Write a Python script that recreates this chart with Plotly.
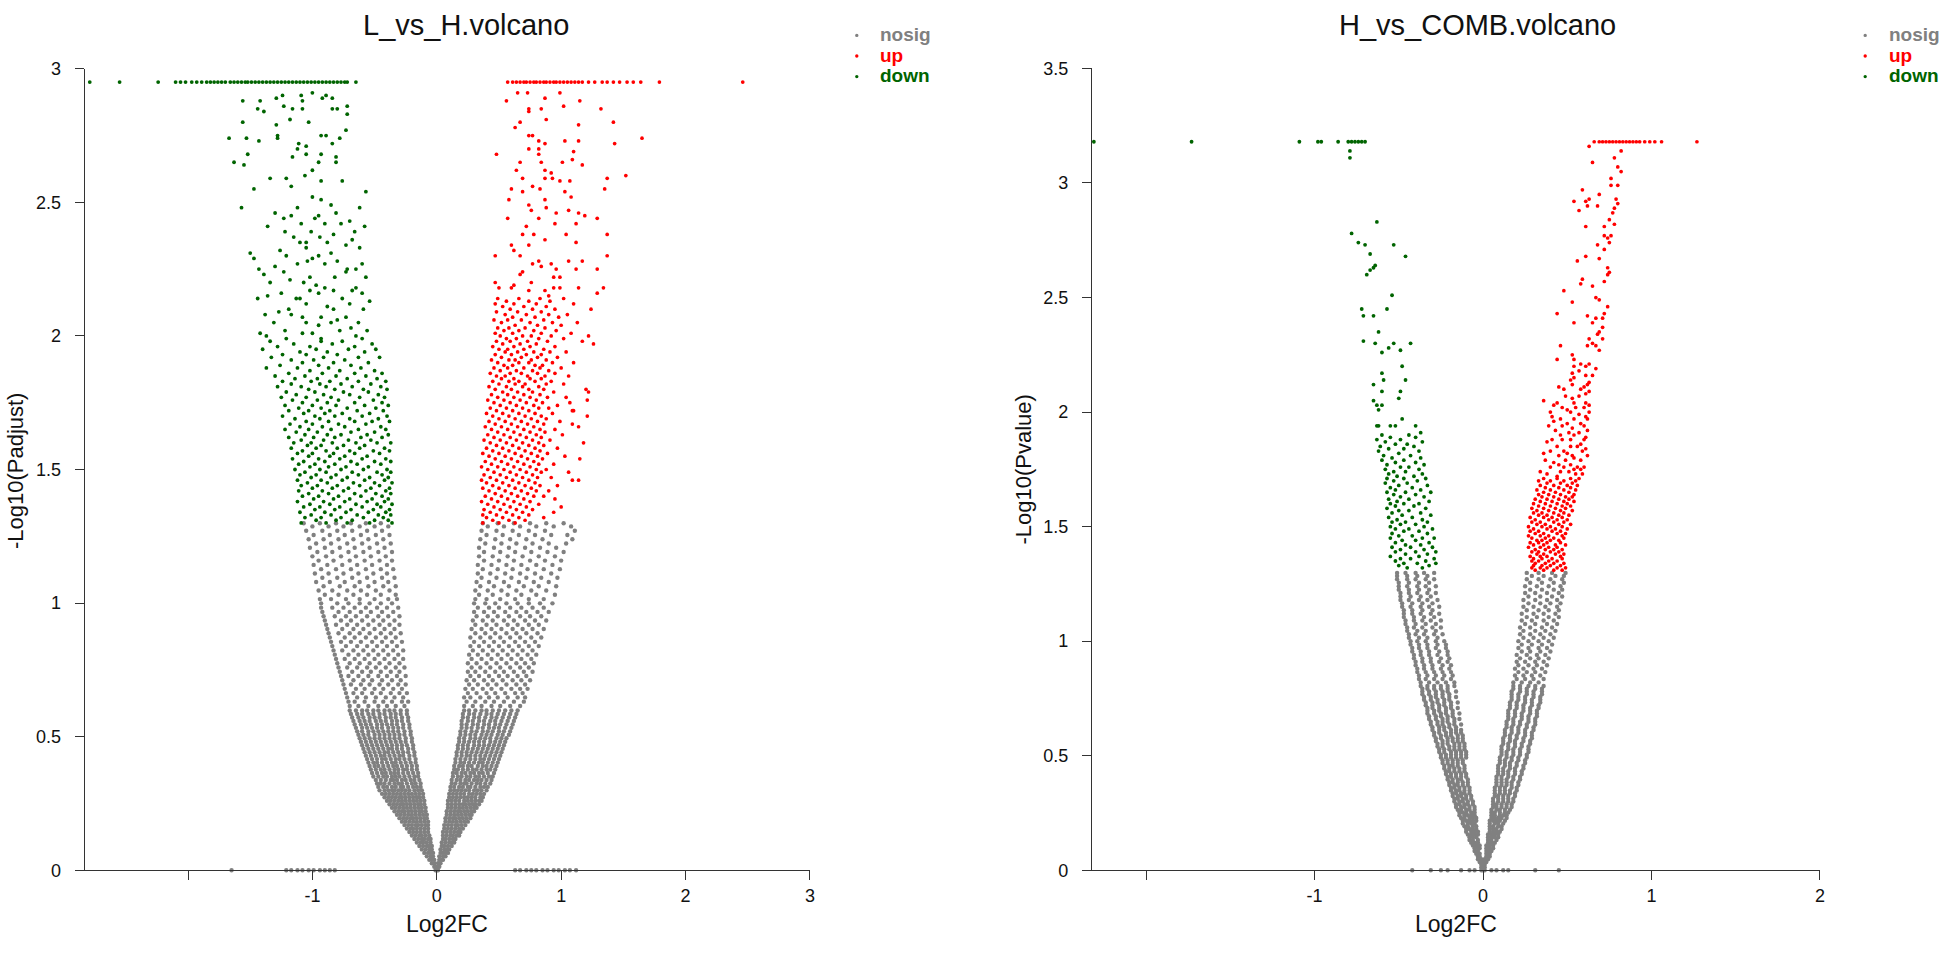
import plotly.graph_objects as go

W, H = 1946, 953

PANEL_TITLES = ["L_vs_H.volcano", "H_vs_COMB.volcano"]
X_TITLE = "Log2FC"
Y_TITLES = ["-Log10(Padjust)", "-Log10(Pvalue)"]
GROUPS = ["nosig", "up", "down"]
GROUP_COLORS = {"nosig": "#808080", "up": "#FF0000", "down": "#006400"}
GROUP_SIZES = {"nosig": 4.4, "up": 3.7, "down": 3.8}

LH_XTICKS = [-2, -1, 0, 1, 2, 3]
LH_XTICKTEXT = ["", "-1", "0", "1", "2", "3"]
LH_YTICKS = [0, 0.5, 1, 1.5, 2, 2.5, 3]
LH_YTICKTEXT = ["0", "0.5", "1", "1.5", "2", "2.5", "3"]
HC_XTICKS = [-2, -1, 0, 1, 2]
HC_XTICKTEXT = ["", "-1", "0", "1", "2"]
HC_YTICKS = [0, 0.5, 1, 1.5, 2, 2.5, 3, 3.5]
HC_YTICKTEXT = ["0", "0.5", "1", "1.5", "2", "2.5", "3", "3.5"]

# ---------------- L_vs_H : rows of (-log10 Padjust, [log2FC ...])
LH_NOSIG = [
(0.000, [-1.65,-1.21,-1.17,-1.12,-1.08,-1.03,-0.99,-0.94,-0.90,-0.86,-0.82,-0.01,0.00,0.01,0.63,0.67,0.72,0.76,0.80,0.85,0.89,0.94,0.98,1.03,1.07,1.12]),
(0.013, [-0.02,-0.01,0.01,0.02]),
(0.026, [-0.04,-0.02,0.01,0.03]),
(0.039, [-0.06,-0.04,-0.02,0.02,0.04,0.05]),
(0.052, [-0.08,-0.05,-0.03,0.02,0.05,0.07]),
(0.065, [-0.10,-0.07,-0.05,-0.03,0.03,0.05,0.07,0.09]),
(0.078, [-0.12,-0.09,-0.06,-0.04,0.03,0.06,0.08,0.10]),
(0.091, [-0.14,-0.11,-0.08,-0.06,-0.04,0.04,0.06,0.09,0.12]),
(0.104, [-0.16,-0.13,-0.11,-0.08,-0.05,0.04,0.07,0.10,0.12,0.14]),
(0.117, [-0.18,-0.15,-0.12,-0.10,-0.07,-0.05,0.05,0.07,0.10,0.13,0.15]),
(0.130, [-0.20,-0.17,-0.14,-0.12,-0.09,-0.06,0.05,0.08,0.11,0.13,0.16,0.18]),
(0.143, [-0.22,-0.19,-0.16,-0.13,-0.10,-0.07,0.05,0.08,0.11,0.14,0.17,0.19]),
(0.156, [-0.24,-0.21,-0.19,-0.16,-0.13,-0.10,-0.07,0.06,0.09,0.12,0.15,0.18,0.21]),
(0.169, [-0.26,-0.23,-0.20,-0.17,-0.15,-0.12,-0.09,-0.07,0.06,0.09,0.12,0.15,0.17,0.20,0.23]),
(0.182, [-0.28,-0.25,-0.22,-0.19,-0.16,-0.13,-0.10,-0.07,0.07,0.10,0.13,0.16,0.19,0.22,0.25]),
(0.195, [-0.30,-0.27,-0.24,-0.21,-0.19,-0.16,-0.13,-0.10,-0.08,0.07,0.10,0.13,0.15,0.18,0.21,0.24,0.27]),
(0.208, [-0.32,-0.29,-0.26,-0.23,-0.20,-0.17,-0.14,-0.11,-0.08,0.08,0.11,0.14,0.17,0.20,0.23,0.26,0.28]),
(0.221, [-0.34,-0.31,-0.28,-0.26,-0.23,-0.20,-0.17,-0.14,-0.12,-0.09,0.08,0.11,0.14,0.17,0.19,0.22,0.25,0.28,0.30]),
(0.234, [-0.36,-0.33,-0.30,-0.27,-0.24,-0.21,-0.18,-0.15,-0.12,-0.09,0.09,0.12,0.15,0.18,0.21,0.24,0.27,0.30,0.32]),
(0.247, [-0.38,-0.35,-0.32,-0.29,-0.27,-0.24,-0.21,-0.18,-0.15,-0.13,-0.10,0.09,0.12,0.15,0.18,0.21,0.23,0.26,0.29,0.31,0.34]),
(0.260, [-0.40,-0.37,-0.34,-0.31,-0.28,-0.25,-0.22,-0.19,-0.16,-0.13,-0.10,0.09,0.12,0.15,0.18,0.22,0.25,0.28,0.31,0.34,0.36]),
(0.273, [-0.42,-0.39,-0.36,-0.33,-0.30,-0.28,-0.25,-0.22,-0.19,-0.16,-0.14,-0.11,0.10,0.13,0.16,0.19,0.22,0.25,0.28,0.31,0.35,0.37]),
(0.286, [-0.44,-0.41,-0.38,-0.35,-0.32,-0.29,-0.26,-0.23,-0.20,-0.17,-0.14,-0.11,0.10,0.13,0.16,0.19,0.22,0.26,0.29,0.32,0.35,0.38]),
(0.299, [-0.46,-0.42,-0.39,-0.36,-0.34,-0.31,-0.28,-0.25,-0.22,-0.18,-0.15,-0.12,0.11,0.14,0.17,0.20,0.23,0.26,0.30,0.33,0.36,0.40]),
(0.312, [-0.47,-0.43,-0.40,-0.36,-0.33,-0.29,-0.27,-0.23,-0.19,-0.16,-0.13,0.11,0.14,0.18,0.21,0.25,0.27,0.31,0.35,0.38,0.41]),
(0.325, [-0.48,-0.45,-0.42,-0.38,-0.34,-0.31,-0.28,-0.24,-0.20,-0.17,-0.13,0.12,0.15,0.19,0.22,0.24,0.28,0.32,0.35,0.39,0.43]),
(0.338, [-0.49,-0.45,-0.41,-0.37,-0.35,-0.32,-0.28,-0.25,-0.21,-0.18,-0.14,0.12,0.16,0.19,0.23,0.26,0.30,0.33,0.36,0.40,0.44]),
(0.351, [-0.51,-0.47,-0.43,-0.40,-0.36,-0.33,-0.30,-0.26,-0.22,-0.18,-0.15,0.13,0.17,0.20,0.24,0.27,0.31,0.34,0.38,0.42,0.45]),
(0.364, [-0.52,-0.48,-0.44,-0.41,-0.37,-0.34,-0.31,-0.27,-0.23,-0.19,-0.15,0.13,0.16,0.20,0.23,0.27,0.30,0.34,0.37,0.41,0.46]),
(0.377, [-0.53,-0.49,-0.45,-0.42,-0.38,-0.34,-0.31,-0.27,-0.24,-0.20,-0.16,0.14,0.17,0.21,0.25,0.29,0.32,0.36,0.40,0.43,0.47]),
(0.390, [-0.54,-0.50,-0.47,-0.43,-0.39,-0.35,-0.32,-0.28,-0.24,-0.20,-0.16,0.14,0.18,0.21,0.25,0.28,0.33,0.37,0.40,0.44,0.48]),
(0.403, [-0.55,-0.51,-0.48,-0.44,-0.40,-0.36,-0.33,-0.29,-0.25,-0.21,-0.17,0.15,0.19,0.22,0.26,0.30,0.34,0.37,0.41,0.45,0.49]),
(0.416, [-0.56,-0.52,-0.48,-0.44,-0.41,-0.37,-0.33,-0.30,-0.26,-0.22,-0.17,0.15,0.19,0.23,0.27,0.31,0.35,0.38,0.42,0.46,0.50]),
(0.429, [-0.57,-0.53,-0.49,-0.45,-0.42,-0.38,-0.34,-0.30,-0.27,-0.22,-0.18,0.16,0.20,0.24,0.27,0.31,0.35,0.39,0.43,0.47,0.51]),
(0.442, [-0.58,-0.54,-0.50,-0.46,-0.42,-0.39,-0.35,-0.31,-0.27,-0.23,-0.18,0.16,0.20,0.24,0.28,0.32,0.36,0.40,0.44,0.48,0.52]),
(0.455, [-0.59,-0.55,-0.51,-0.47,-0.43,-0.39,-0.36,-0.32,-0.28,-0.23,-0.19,0.17,0.21,0.25,0.29,0.33,0.37,0.41,0.45,0.49,0.53]),
(0.468, [-0.60,-0.56,-0.52,-0.48,-0.44,-0.40,-0.36,-0.32,-0.28,-0.24,-0.19,0.17,0.21,0.25,0.30,0.34,0.38,0.42,0.46,0.50,0.54]),
(0.481, [-0.61,-0.57,-0.53,-0.49,-0.45,-0.41,-0.37,-0.33,-0.29,-0.25,-0.20,0.18,0.22,0.26,0.30,0.34,0.38,0.43,0.47,0.51,0.55]),
(0.494, [-0.62,-0.58,-0.54,-0.50,-0.46,-0.42,-0.38,-0.34,-0.30,-0.25,-0.20,0.18,0.22,0.27,0.31,0.35,0.39,0.43,0.48,0.52,0.56]),
(0.507, [-0.63,-0.59,-0.55,-0.50,-0.46,-0.42,-0.38,-0.34,-0.30,-0.26,-0.21,0.19,0.23,0.27,0.31,0.36,0.40,0.44,0.49,0.53,0.58]),
(0.520, [-0.64,-0.60,-0.55,-0.51,-0.47,-0.43,-0.39,-0.35,-0.31,-0.26,-0.21,0.19,0.23,0.28,0.32,0.37,0.41,0.45,0.50,0.54,0.59]),
(0.533, [-0.65,-0.60,-0.56,-0.52,-0.48,-0.44,-0.39,-0.35,-0.31,-0.27,-0.22,0.20,0.24,0.28,0.33,0.37,0.42,0.46,0.50,0.55,0.60]),
(0.546, [-0.66,-0.61,-0.57,-0.53,-0.48,-0.44,-0.40,-0.36,-0.32,-0.27,-0.22,0.20,0.24,0.29,0.33,0.38,0.42,0.47,0.51,0.56,0.61]),
(0.559, [-0.67,-0.62,-0.58,-0.54,-0.49,-0.45,-0.41,-0.36,-0.32,-0.28,-0.23,0.20,0.25,0.29,0.34,0.38,0.43,0.47,0.52,0.57,0.62]),
(0.572, [-0.68,-0.63,-0.59,-0.54,-0.50,-0.46,-0.41,-0.37,-0.33,-0.28,-0.23,0.21,0.25,0.30,0.34,0.39,0.44,0.48,0.53,0.58,0.63]),
(0.585, [-0.69,-0.64,-0.60,-0.55,-0.51,-0.46,-0.42,-0.37,-0.33,-0.29,-0.24,0.21,0.26,0.30,0.35,0.40,0.44,0.49,0.54,0.59,0.64]),
(0.598, [-0.70,-0.65,-0.60,-0.56,-0.51,-0.47,-0.42,-0.38,-0.34,-0.29,-0.24,0.22,0.26,0.31,0.36,0.40,0.45,0.50,0.55,0.60,0.65]),
(0.615, [-0.70,-0.63,-0.55,-0.47,-0.40,-0.33,-0.26,0.22,0.29,0.36,0.44,0.51,0.59,0.67]),
(0.631, [-0.71,-0.66,-0.58,-0.50,-0.43,-0.36,-0.28,-0.23,0.24,0.31,0.39,0.46,0.54,0.62,0.70]),
(0.647, [-0.72,-0.64,-0.57,-0.49,-0.41,-0.34,-0.27,0.22,0.27,0.35,0.42,0.49,0.57,0.65,0.71]),
(0.663, [-0.73,-0.67,-0.60,-0.52,-0.45,-0.37,-0.30,-0.24,0.25,0.32,0.40,0.47,0.55,0.63,0.69]),
(0.679, [-0.74,-0.65,-0.58,-0.50,-0.43,-0.35,-0.28,0.23,0.29,0.37,0.44,0.52,0.60,0.67,0.73]),
(0.695, [-0.75,-0.69,-0.61,-0.54,-0.46,-0.39,-0.31,-0.25,0.26,0.33,0.41,0.48,0.56,0.64,0.71]),
(0.711, [-0.76,-0.67,-0.59,-0.52,-0.44,-0.36,-0.29,0.24,0.30,0.38,0.45,0.53,0.61,0.68,0.75]),
(0.727, [-0.77,-0.71,-0.63,-0.55,-0.47,-0.40,-0.32,-0.25,0.27,0.34,0.42,0.50,0.57,0.65,0.72]),
(0.743, [-0.78,-0.68,-0.60,-0.53,-0.45,-0.37,-0.30,0.25,0.31,0.39,0.47,0.54,0.62,0.70,0.77]),
(0.759, [-0.79,-0.72,-0.64,-0.56,-0.49,-0.41,-0.33,-0.26,0.28,0.35,0.43,0.51,0.59,0.67,0.74]),
(0.775, [-0.80,-0.70,-0.62,-0.54,-0.46,-0.38,-0.30,0.25,0.32,0.40,0.48,0.56,0.64,0.71,0.78]),
(0.791, [-0.81,-0.74,-0.66,-0.58,-0.50,-0.42,-0.34,-0.27,0.28,0.36,0.44,0.52,0.60,0.68,0.76]),
(0.807, [-0.82,-0.71,-0.63,-0.55,-0.47,-0.39,-0.31,0.26,0.33,0.41,0.49,0.57,0.65,0.73,0.80]),
(0.823, [-0.83,-0.76,-0.67,-0.59,-0.51,-0.43,-0.35,-0.27,0.29,0.37,0.45,0.53,0.61,0.69,0.77]),
(0.839, [-0.84,-0.73,-0.64,-0.56,-0.48,-0.40,-0.32,0.27,0.34,0.42,0.50,0.58,0.66,0.74,0.82]),
(0.855, [-0.85,-0.77,-0.69,-0.61,-0.52,-0.44,-0.36,-0.28,0.30,0.38,0.46,0.54,0.63,0.71,0.79]),
(0.871, [-0.86,-0.74,-0.66,-0.57,-0.49,-0.41,-0.33,0.27,0.35,0.43,0.51,0.59,0.67,0.76,0.84]),
(0.887, [-0.87,-0.79,-0.70,-0.62,-0.54,-0.45,-0.37,-0.29,0.31,0.39,0.47,0.56,0.64,0.72,0.81]),
(0.903, [-0.88,-0.76,-0.67,-0.59,-0.50,-0.42,-0.34,0.28,0.36,0.44,0.52,0.61,0.69,0.77,0.86]),
(0.919, [-0.89,-0.81,-0.72,-0.64,-0.55,-0.46,-0.38,-0.30,0.31,0.40,0.48,0.57,0.65,0.74,0.82]),
(0.935, [-0.90,-0.77,-0.69,-0.60,-0.51,-0.43,-0.34,0.29,0.37,0.45,0.54,0.62,0.71,0.79,0.88]),
(0.951, [-0.91,-0.82,-0.73,-0.65,-0.56,-0.47,-0.39,-0.30,0.32,0.41,0.49,0.58,0.67,0.75,0.84]),
(0.967, [-0.92,-0.79,-0.70,-0.61,-0.53,-0.44,-0.35,0.30,0.38,0.46,0.55,0.64,0.72,0.81,0.90]),
(0.983, [-0.93,-0.84,-0.75,-0.66,-0.57,-0.48,-0.40,-0.31,0.33,0.42,0.50,0.59,0.68,0.77,0.86]),
(0.999, [-0.93,-0.80,-0.71,-0.62,-0.54,-0.45,-0.36,0.30,0.39,0.47,0.56,0.65,0.74,0.83,0.93]),
(1.015, [-0.94,-0.85,-0.73,-0.62,-0.50,-0.39,-0.32,0.31,0.40,0.51,0.63,0.74,0.86]),
(1.031, [-0.90,-0.79,-0.67,-0.56,-0.45,-0.33,0.34,0.45,0.57,0.68,0.80,0.95]),
(1.047, [-0.95,-0.84,-0.72,-0.61,-0.49,-0.38,0.31,0.41,0.52,0.64,0.76,0.88]),
(1.063, [-0.91,-0.78,-0.66,-0.55,-0.43,-0.33,0.35,0.46,0.58,0.70,0.82,0.96]),
(1.079, [-0.97,-0.86,-0.74,-0.62,-0.50,-0.39,0.32,0.42,0.54,0.66,0.78,0.90]),
(1.095, [-0.92,-0.80,-0.68,-0.56,-0.44,-0.34,0.36,0.48,0.60,0.72,0.84,0.97]),
(1.111, [-0.98,-0.87,-0.75,-0.63,-0.51,-0.40,0.33,0.43,0.55,0.67,0.79,0.92]),
(1.127, [-0.93,-0.81,-0.69,-0.57,-0.45,-0.35,0.37,0.49,0.61,0.73,0.86,0.99]),
(1.143, [-0.99,-0.88,-0.76,-0.64,-0.52,-0.40,0.33,0.44,0.56,0.68,0.80,0.93]),
(1.159, [-0.95,-0.83,-0.70,-0.58,-0.46,-0.36,0.38,0.50,0.62,0.75,0.87,1.00]),
(1.175, [-1.00,-0.89,-0.77,-0.65,-0.53,-0.41,0.34,0.45,0.57,0.69,0.82,0.95]),
(1.191, [-0.96,-0.84,-0.71,-0.59,-0.47,-0.36,0.38,0.51,0.63,0.76,0.89,1.02]),
(1.207, [-1.02,-0.90,-0.78,-0.66,-0.54,-0.42,0.34,0.46,0.58,0.71,0.83,0.96]),
(1.223, [-0.97,-0.85,-0.72,-0.60,-0.48,-0.37,0.39,0.52,0.64,0.77,0.90,1.04]),
(1.239, [-1.03,-0.91,-0.79,-0.67,-0.55,-0.43,0.35,0.47,0.59,0.72,0.85,1.09]),
(1.255, [-0.99,-0.86,-0.74,-0.61,-0.49,-0.38,0.40,0.53,0.66,0.79,0.92,1.05]),
(1.271, [-1.05,-0.92,-0.80,-0.68,-0.56,-0.44,0.36,0.48,0.61,0.74,0.87,1.11]),
(1.287, [-1.00,-0.87,-0.75,-0.62,-0.50,-0.39,0.41,0.54,0.67,0.80,0.94,1.08]),
(1.299, [-1.07,-0.94,-0.81,-0.69,-0.57,-0.45,0.37,0.49,0.62,0.75,0.88,1.02]),
]

LH_UP = [
(2.95, [0.57,0.61,0.64,0.67,0.70,0.72,0.75,0.78,0.80,0.83,0.86,0.88,0.91,0.94,0.96,0.99,1.02,1.05,1.08,1.11,1.14,1.17,1.22,1.27,1.33,1.37,1.42,1.47,1.53,1.58,1.64,1.79,2.46]),
(2.91, [0.65,0.73,0.99]), (2.89, [0.87]), (2.88, [0.56,1.15]), (2.86, [1.02]),
(2.85, [0.74,0.84,1.32]), (2.84, [0.74]), (2.81, [0.88]), (2.80, [0.67,1.42]),
(2.79, [1.14]), (2.78, [0.63]), (2.75, [0.74,0.77]), (2.74, [1.65]),
(2.73, [0.82,1.03,1.14]), (2.72, [0.87,1.43]), (2.70, [0.74,0.82]), (2.69, [1.10]),
(2.68, [0.48,0.82]), (2.66, [1.09]), (2.65, [0.67,0.84,1.01]), (2.64, [1.17]),
(2.62, [0.64,0.87]), (2.61, [0.92]), (2.60, [1.52]), (2.59, [0.69,0.87,0.93,1.37]),
(2.58, [0.99,1.07]), (2.56, [0.77]), (2.55, [0.60,0.83,1.35]), (2.54, [0.69,1.03]),
(2.52, [1.08]), (2.51, [0.58,0.87]), (2.49, [0.74]), (2.48, [0.88]),
(2.47, [0.76,1.06]), (2.46, [0.96,1.14]), (2.45, [1.19]), (2.44, [0.57,0.82,1.29]),
(2.42, [0.95,1.12]), (2.41, [0.72]), (2.38, [0.69,0.78,1.04,1.37]), (2.36, [0.87]),
(2.35, [1.12]), (2.34, [0.60,0.74]), (2.32, [0.62]), (2.30, [0.47,0.67,1.37]),
(2.28, [0.82,1.06,1.17]), (2.27, [0.77,0.92]), (2.26, [0.84]), (2.25, [0.96,1.12,1.29]),
(2.24, [0.69]), (2.23, [0.67]), (2.22, [0.94,0.99]), (2.20, [0.47,0.76]),
(2.19, [0.62]), (2.18, [0.50,0.60,0.94,0.99,1.14,1.34]), (2.17, [0.74,0.87]),
(2.16, [1.29]), (2.15, [0.90]),
(2.14, [0.49,0.66,0.83,1.02]), (2.13, [0.56,0.74,0.91]), (2.12, [0.47,0.62,0.80,1.10]),
(2.11, [0.53,0.70,0.88]), (2.10, [0.59,0.77,0.95,1.24]), (2.09, [0.48,0.65,0.84]),
(2.08, [0.55,0.72,0.90,1.05]), (2.07, [0.61,0.79,0.98]), (2.06, [0.46,0.57,0.68,0.86]),
(2.05, [0.52,0.75,0.93,1.13]), (2.04, [0.63,0.81,1.00]), (2.03, [0.49,0.58,0.71,0.87]),
(2.02, [0.54,0.66,0.78,0.96]), (2.01, [0.47,0.61,0.84,1.08]), (2.00, [0.51,0.69,0.76,0.92,1.22]),
(1.99, [0.56,0.64,0.82,1.02]), (1.98, [0.48,0.59,0.73,0.89,1.17]), (1.97, [0.53,0.67,0.80,1.26]),
(1.96, [0.45,0.62,0.75,0.95]), (1.95, [0.50,0.57,0.70,0.86]), (1.94, [0.55,0.65,0.78,0.91,1.04]),
(1.93, [0.47,0.60,0.72,0.84]), (1.92, [0.52,0.68,0.81,0.97]), (1.91, [0.44,0.58,0.63,0.76,0.88]),
(1.90, [0.49,0.66,0.74,0.93,1.10]), (1.89, [0.54,0.61,0.79,0.85]), (1.88, [0.46,0.57,0.70,0.83,1.00]),
(1.87, [0.51,0.64,0.77,0.90]), (1.86, [0.43,0.59,0.68,0.81,0.95]), (1.85, [0.48,0.55,0.73,0.87,1.06]),
(1.84, [0.52,0.62,0.75,0.84]), (1.83, [0.45,0.58,0.66,0.79,0.92]), (1.82, [0.50,0.63,0.71,0.88,1.02]),
(1.81, [0.42,0.56,0.69,0.82]), (1.80, [0.47,0.60,0.74,0.86,1.20]), (1.79, [0.53,0.65,0.77,0.94,1.22]),
(1.78, [0.44,0.57,0.70,0.83]), (1.77, [0.49,0.62,0.75,0.89,1.04]), (1.76, [0.41,0.54,0.67,0.80,1.21]),
(1.75, [0.46,0.59,0.72,0.85,1.07]), (1.74, [0.51,0.64,0.78,0.97]), (1.73, [0.43,0.56,0.69,0.82,0.90]),
(1.72, [0.48,0.61,0.74,1.09,1.10]), (1.71, [0.40,0.53,0.66,0.79,0.93]), (1.70, [0.45,0.58,0.71,0.84,1.21]),
(1.69, [0.50,0.63,0.76,0.88]), (1.68, [0.42,0.55,0.68,0.81,0.99]), (1.67, [0.47,0.60,0.73,0.86,1.09]),
(1.66, [0.39,0.52,0.65,0.78,1.14]), (1.65, [0.44,0.57,0.70,0.83,0.95]), (1.64, [0.49,0.62,0.75,0.87]),
(1.63, [0.41,0.54,0.67,0.80,1.01]), (1.62, [0.46,0.59,0.72,0.84]), (1.61, [0.38,0.51,0.64,0.77,0.91]),
(1.60, [0.43,0.56,0.69,0.82,1.18]), (1.59, [0.48,0.61,0.74,0.86]), (1.58, [0.40,0.53,0.66,0.79,0.97]),
(1.57, [0.45,0.58,0.71,0.83]), (1.56, [0.37,0.50,0.63,0.76,0.89]), (1.55, [0.42,0.55,0.68,0.81,1.03]),
(1.54, [0.47,0.60,0.73,0.85,1.15]), (1.53, [0.39,0.52,0.65,0.78]), (1.52, [0.44,0.57,0.70,0.82,0.94]),
(1.51, [0.36,0.49,0.62,0.75]), (1.50, [0.41,0.54,0.67,0.80,0.88]), (1.49, [0.46,0.59,0.72,0.84,1.06]),
(1.48, [0.38,0.51,0.64,0.77]), (1.47, [0.43,0.56,0.69,0.81,0.92]), (1.46, [0.36,0.48,0.61,0.74,1.09,1.14]),
(1.45, [0.40,0.53,0.66,0.79]), (1.44, [0.45,0.58,0.71,0.83,0.97]), (1.43, [0.37,0.50,0.63,0.76]),
(1.42, [0.42,0.55,0.68,0.80,0.90]), (1.41, [0.47,0.60,0.73]), (1.40, [0.39,0.52,0.65,0.78,0.86]),
(1.39, [0.44,0.57,0.70,0.95]), (1.38, [0.36,0.49,0.62,0.75]), (1.37, [0.41,0.54,0.67,0.82]),
(1.36, [0.46,0.59,0.72,1.00]), (1.35, [0.38,0.51,0.64,0.77]), (1.34, [0.43,0.56,0.69,0.94]),
(1.33, [0.37,0.48,0.61,0.74]), (1.32, [0.40,0.53,0.66,0.86]), (1.31, [0.45,0.58,0.71]),
(1.30, [0.37,0.50,0.63]),
]

LH_DOWN = [
(2.95, [-2.79,-2.55,-2.24,-2.10,-2.06,-2.02,-1.97,-1.93,-1.89,-1.85,-1.82,-1.79,-1.76,-1.73,-1.70,-1.66,-1.63,-1.60,-1.57,-1.54,-1.52,-1.49,-1.46,-1.43,-1.40,-1.37,-1.34,-1.31,-1.28,-1.25,-1.22,-1.19,-1.16,-1.13,-1.10,-1.07,-1.04,-1.01,-0.98,-0.95,-0.92,-0.89,-0.86,-0.83,-0.80,-0.77,-0.74,-0.72,-0.65]),
(2.91, [-1.00]), (2.90, [-1.24,-1.09,-0.89]), (2.89, [-1.29,-0.92,-0.84]), (2.88, [-1.56,-1.42,-1.08]),
(2.86, [-1.23,-0.72]), (2.85, [-1.44,-1.16,-1.08,-0.84,-0.80]), (2.84, [-1.39]), (2.83, [-0.72]),
(2.81, [-1.18]), (2.80, [-1.56,-1.03]), (2.79, [-1.29]), (2.77, [-0.73]),
(2.75, [-1.28,-0.93,-0.89]), (2.74, [-1.67,-1.53,-1.28,-0.78]), (2.73, [-1.43]), (2.72, [-1.11,-0.84]),
(2.71, [-1.05]), (2.70, [-1.12]), (2.68, [-1.52,-1.05,-0.93]), (2.67, [-1.16,-0.81]),
(2.65, [-1.63,-0.95,-0.81]), (2.64, [-1.55]), (2.62, [-1.00]), (2.60, [-1.06]),
(2.59, [-1.34,-1.21]), (2.58, [-0.93,-0.76]), (2.56, [-1.17]), (2.55, [-1.47]),
(2.54, [-0.57]), (2.52, [-1.00]), (2.51, [-0.93]), (2.49, [-0.85]),
(2.48, [-1.57,-1.12,-0.62]), (2.46, [-1.30,-0.81]), (2.45, [-1.17,-0.95]), (2.44, [-1.23,-0.98]),
(2.43, [-0.70]), (2.42, [-1.09,-0.90,-0.77]), (2.41, [-1.36,-0.58]), (2.39, [-1.22,-1.01,-0.66]),
(2.38, [-0.83]), (2.37, [-1.15,-0.94]), (2.36, [-0.68]), (2.35, [-1.10,-1.05,-0.88]),
(2.34, [-0.73]), (2.33, [-1.05,-0.62]), (2.32, [-1.26]), (2.31, [-1.50,-0.85]),
(2.30, [-1.21,-0.95]), (2.29, [-1.47,-1.00]), (2.28, [-1.04,-0.80]), (2.27, [-1.12,-0.90,-0.60]),
(2.26, [-1.30]), (2.25, [-1.43,-0.72,-0.65]), (2.24, [-1.23,-0.73]), (2.23, [-1.39]),
(2.22, [-1.02,-0.82,-0.57]), (2.21, [-1.18]), (2.20, [-1.34,-1.07]), (2.19, [-0.97]),
(2.18, [-0.90,-0.65]), (2.17, [-1.02,-0.83,-0.68]), (2.16, [-1.25,-0.95,-0.60]), (2.15, [-1.36]),
(2.14, [-1.44,-1.13,-1.10,-0.76]), (2.13, [-0.54]), (2.12, [-1.05,-0.70]), (2.11, [-0.88]),
(2.10, [-1.19,-0.83,-0.59]), (2.09, [-1.27]), (2.08, [-1.38,-1.17]), (2.07, [-1.08,-0.93,-0.73]),
(2.06, [-0.80]), (2.05, [-1.31,-1.05,-0.85,-0.63]), (2.04, [-0.95]), (2.03, [-0.69]),
(2.02, [-1.22,-0.78,-0.56]), (2.01, [-1.42,-1.08,-1.00]), (2.00, [-1.37,-0.65]),
(1.99, [-1.21,-0.93,-0.60]), (1.98, [-1.34,-0.93,-0.76]), (1.97, [-1.15,-0.84,-0.52]),
(1.96, [-1.28,-1.02,-0.66]), (1.95, [-1.40,-0.97,-0.71,-0.49]), (1.94, [-1.10,-0.88,-0.58]),
(1.93, [-1.24,-1.05,-0.80]), (1.92, [-1.33,-0.91,-0.63,-0.46]), (1.91, [-1.17,-0.99,-0.74]),
(1.90, [-1.08,-0.83,-0.55]), (1.89, [-1.26,-0.95,-0.69]), (1.88, [-1.37,-1.12,-0.87,-0.61]),
(1.87, [-1.02,-0.78,-0.50]), (1.86, [-1.19,-0.92,-0.66,-0.44]), (1.85, [-1.30,-1.06,-0.81,-0.57]),
(1.84, [-1.14,-0.96,-0.72,-0.48]), (1.83, [-1.24,-1.01,-0.86,-0.63,-0.41]), (1.82, [-1.17,-0.94,-0.77,-0.53]),
(1.81, [-1.28,-1.09,-0.89,-0.68,-0.45]), (1.80, [-1.03,-0.82,-0.59,-0.40]), (1.79, [-1.21,-0.98,-0.75,-0.55]),
(1.78, [-1.13,-0.91,-0.70,-0.47]), (1.77, [-1.25,-1.05,-0.85,-0.62,-0.42]), (1.76, [-1.16,-0.96,-0.79,-0.51]),
(1.75, [-1.08,-0.88,-0.66,-0.44]), (1.74, [-1.22,-1.00,-0.81,-0.58,-0.39]), (1.73, [-1.11,-0.93,-0.72,-0.49]),
(1.72, [-1.19,-1.03,-0.86,-0.64,-0.43]), (1.71, [-1.07,-0.90,-0.76,-0.54]), (1.70, [-1.24,-0.98,-0.82,-0.60,-0.40]),
(1.69, [-1.14,-0.94,-0.70,-0.47]), (1.68, [-1.05,-0.87,-0.66,-0.52,-0.38]), (1.67, [-1.18,-1.00,-0.79,-0.57]),
(1.66, [-1.10,-0.92,-0.74,-0.45]), (1.65, [-1.22,-1.03,-0.85,-0.63,-0.41]), (1.64, [-1.13,-0.96,-0.69,-0.50]),
(1.63, [-1.06,-0.88,-0.77,-0.56,-0.39]), (1.62, [-1.19,-0.99,-0.82,-0.61,-0.44]), (1.61, [-1.09,-0.91,-0.71,-0.53]),
(1.60, [-1.15,-1.01,-0.84,-0.65,-0.48,-0.37]), (1.59, [-1.04,-0.93,-0.75,-0.58]), (1.58, [-1.17,-0.97,-0.80,-0.62,-0.42]),
(1.57, [-1.08,-0.89,-0.70,-0.51,-0.38]), (1.56, [-1.12,-1.00,-0.83,-0.66,-0.46]), (1.55, [-1.03,-0.86,-0.74,-0.56]),
(1.54, [-1.16,-0.95,-0.78,-0.60,-0.41]), (1.53, [-1.07,-0.90,-0.69,-0.50,-0.37]), (1.52, [-1.11,-0.98,-0.82,-0.64,-0.45]),
(1.51, [-1.02,-0.87,-0.73,-0.55]), (1.50, [-1.14,-0.94,-0.77,-0.59,-0.40]), (1.49, [-1.06,-0.89,-0.68,-0.48,-0.37]),
(1.48, [-1.10,-0.97,-0.81,-0.63,-0.44]), (1.47, [-1.01,-0.85,-0.72,-0.54,-0.39]), (1.46, [-1.12,-0.93,-0.76,-0.58,-0.42]),
(1.45, [-1.04,-0.88,-0.67,-0.50,-0.36]), (1.44, [-1.09,-0.96,-0.80,-0.62,-0.46]), (1.43, [-1.00,-0.84,-0.71,-0.53,-0.38]),
(1.42, [-1.11,-0.92,-0.75,-0.57,-0.41]), (1.41, [-1.03,-0.87,-0.66,-0.49,-0.37]), (1.40, [-1.08,-0.95,-0.79,-0.61,-0.44]),
(1.39, [-0.99,-0.83,-0.70,-0.52,-0.39]), (1.38, [-1.12,-0.91,-0.74,-0.56,-0.42]), (1.37, [-1.02,-0.86,-0.65,-0.48,-0.36]),
(1.36, [-1.07,-0.94,-0.78,-0.60,-0.45]), (1.35, [-0.98,-0.82,-0.69,-0.51,-0.38]), (1.34, [-1.10,-0.90,-0.73,-0.55,-0.41]),
(1.33, [-1.01,-0.85,-0.64,-0.47,-0.37]), (1.32, [-1.06,-0.93,-0.77,-0.59,-0.43]), (1.31, [-0.97,-0.81,-0.68,-0.50,-0.39]),
(1.30, [-1.09,-0.89,-0.72,-0.54,-0.36]),
]

# ---------------- H_vs_COMB : rows of (-log10 Pvalue, [log2FC ...])
HC_NOSIG = [
(0.000, [-0.42,-0.31,-0.25,-0.21,-0.13,-0.08,-0.05,-0.01,0.00,0.01,0.05,0.08,0.12,0.15,0.31,0.45]),
(0.012, [-0.01,0.01]), (0.024, [-0.01,0.01]),
(0.036, [-0.02,-0.01,0.01,0.02]), (0.048, [-0.03,-0.01,0.01,0.03]),
(0.060, [-0.03,-0.02,0.02,0.04]), (0.072, [-0.04,-0.02,0.02,0.04]),
(0.084, [-0.05,-0.03,0.02,0.04,0.05]), (0.096, [-0.05,-0.03,-0.02,0.02,0.04,0.06]),
(0.108, [-0.06,-0.04,-0.02,0.02,0.04,0.06]), (0.120, [-0.07,-0.05,-0.03,0.03,0.05,0.07]),
(0.132, [-0.08,-0.06,-0.03,0.03,0.05,0.08]), (0.144, [-0.08,-0.06,-0.04,0.03,0.05,0.07,0.09]),
(0.156, [-0.09,-0.07,-0.05,-0.03,0.03,0.05,0.07,0.09]), (0.168, [-0.10,-0.07,-0.05,-0.03,0.04,0.06,0.08,0.10]),
(0.180, [-0.10,-0.08,-0.06,-0.04,0.04,0.06,0.08,0.11]), (0.192, [-0.11,-0.09,-0.06,-0.04,0.04,0.06,0.09,0.11]),
(0.204, [-0.12,-0.09,-0.07,-0.05,0.04,0.07,0.09,0.12]), (0.216, [-0.12,-0.10,-0.08,-0.06,-0.04,0.04,0.06,0.08,0.10,0.13]),
(0.228, [-0.13,-0.11,-0.08,-0.06,-0.04,0.05,0.07,0.09,0.11,0.14]), (0.240, [-0.14,-0.11,-0.09,-0.07,-0.05,0.05,0.07,0.10,0.12,0.14]),
(0.252, [-0.14,-0.12,-0.10,-0.07,-0.05,0.05,0.07,0.10,0.13,0.15]), (0.264, [-0.15,-0.13,-0.10,-0.08,-0.05,0.05,0.08,0.10,0.13,0.16]),
(0.276, [-0.16,-0.13,-0.11,-0.08,-0.05,0.06,0.08,0.11,0.14,0.17]), (0.288, [-0.16,-0.14,-0.11,-0.09,-0.06,0.06,0.08,0.11,0.14,0.17]),
(0.300, [-0.17,-0.14,-0.12,-0.09,-0.06,0.06,0.09,0.12,0.15,0.18]), (0.312, [-0.17,-0.15,-0.12,-0.10,-0.07,0.06,0.09,0.12,0.15,0.18]),
(0.324, [-0.18,-0.15,-0.13,-0.10,-0.07,0.07,0.09,0.12,0.15,0.19]), (0.336, [-0.18,-0.16,-0.13,-0.11,-0.08,0.07,0.10,0.13,0.16,0.19]),
(0.348, [-0.19,-0.16,-0.14,-0.11,-0.08,0.07,0.10,0.13,0.16,0.20]), (0.360, [-0.19,-0.17,-0.14,-0.11,-0.08,0.07,0.10,0.13,0.17,0.20]),
(0.372, [-0.20,-0.17,-0.15,-0.12,-0.09,0.08,0.11,0.14,0.17,0.21]), (0.384, [-0.20,-0.18,-0.15,-0.12,-0.09,0.08,0.11,0.14,0.17,0.21]),
(0.396, [-0.21,-0.18,-0.15,-0.13,-0.09,0.08,0.11,0.14,0.18,0.22]), (0.408, [-0.21,-0.19,-0.16,-0.13,-0.10,0.08,0.11,0.15,0.18,0.22]),
(0.420, [-0.22,-0.19,-0.16,-0.13,-0.10,0.09,0.12,0.15,0.19,0.23]), (0.432, [-0.22,-0.20,-0.17,-0.14,-0.11,0.09,0.12,0.15,0.19,0.23]),
(0.444, [-0.23,-0.20,-0.17,-0.14,-0.11,0.09,0.12,0.16,0.19,0.24]), (0.456, [-0.23,-0.20,-0.18,-0.15,-0.11,0.09,0.13,0.16,0.20,0.24]),
(0.468, [-0.24,-0.21,-0.18,-0.15,-0.12,0.10,0.13,0.16,0.20,0.25]), (0.480, [-0.24,-0.21,-0.18,-0.15,-0.12,0.10,0.13,0.17,0.21,0.25]),
(0.492, [-0.25,-0.22,-0.19,-0.16,-0.13,-0.10,0.10,0.14,0.17,0.21,0.26]), (0.504, [-0.25,-0.22,-0.19,-0.16,-0.13,-0.10,0.11,0.14,0.18,0.22,0.26]),
(0.516, [-0.26,-0.23,-0.19,-0.16,-0.13,-0.10,0.11,0.14,0.18,0.22,0.27]), (0.528, [-0.26,-0.23,-0.20,-0.17,-0.14,-0.11,0.11,0.15,0.18,0.22,0.27]),
(0.540, [-0.27,-0.24,-0.20,-0.17,-0.14,-0.11,0.11,0.15,0.19,0.23,0.27]), (0.552, [-0.27,-0.24,-0.21,-0.17,-0.14,-0.11,0.12,0.15,0.19,0.23,0.28]),
(0.564, [-0.28,-0.24,-0.21,-0.18,-0.15,-0.12,0.12,0.16,0.19,0.24,0.28]), (0.576, [-0.28,-0.25,-0.21,-0.18,-0.15,-0.12,0.12,0.16,0.20,0.24,0.29]),
(0.588, [-0.29,-0.25,-0.22,-0.19,-0.15,-0.12,0.13,0.16,0.20,0.25,0.29]), (0.600, [-0.29,-0.26,-0.22,-0.19,-0.16,-0.13,0.13,0.17,0.21,0.25,0.29]),
(0.612, [-0.30,-0.26,-0.23,-0.19,-0.16,-0.13,0.13,0.17,0.21,0.25,0.30]), (0.624, [-0.30,-0.26,-0.23,-0.20,-0.16,0.14,0.17,0.21,0.26,0.30]),
(0.636, [-0.31,-0.27,-0.24,-0.20,-0.17,-0.13,0.14,0.18,0.22,0.26,0.31]), (0.648, [-0.31,-0.27,-0.24,-0.21,-0.17,0.14,0.18,0.22,0.27,0.31]),
(0.660, [-0.32,-0.28,-0.24,-0.21,-0.17,-0.14,0.15,0.18,0.23,0.27,0.31]), (0.672, [-0.32,-0.28,-0.25,-0.21,-0.18,0.15,0.19,0.23,0.27,0.32]),
(0.684, [-0.33,-0.29,-0.25,-0.22,-0.18,-0.14,0.15,0.19,0.23,0.28,0.32]), (0.696, [-0.33,-0.29,-0.26,-0.22,-0.18,0.15,0.19,0.24,0.28,0.32]),
(0.708, [-0.33,-0.30,-0.26,-0.22,-0.19,-0.15,0.16,0.20,0.24,0.28,0.33]), (0.720, [-0.34,-0.30,-0.26,-0.23,-0.19,0.16,0.20,0.24,0.29,0.33]),
(0.732, [-0.34,-0.30,-0.27,-0.23,-0.19,-0.15,0.16,0.20,0.25,0.29,0.34]), (0.744, [-0.35,-0.31,-0.27,-0.23,-0.20,0.17,0.21,0.25,0.29,0.34]),
(0.756, [-0.35,-0.31,-0.28,-0.24,-0.20,-0.16,0.17,0.21,0.25,0.30,0.34]), (0.768, [-0.36,-0.32,-0.28,-0.24,-0.20,0.17,0.21,0.26,0.30,0.35]),
(0.780, [-0.36,-0.32,-0.28,-0.24,-0.21,-0.16,0.17,0.22,0.26,0.30,0.35]), (0.792, [-0.36,-0.33,-0.29,-0.25,-0.21,0.18,0.22,0.26,0.31,0.35]),
(0.804, [-0.37,-0.33,-0.29,-0.25,-0.21,-0.17,0.18,0.22,0.27,0.31,0.36]),
(0.820, [-0.37,-0.32,-0.27,-0.22,-0.17,0.18,0.23,0.28,0.33]), (0.835, [-0.38,-0.34,-0.29,-0.24,-0.19,0.20,0.25,0.30,0.36]),
(0.850, [-0.38,-0.33,-0.28,-0.23,-0.18,0.19,0.24,0.29,0.34]), (0.865, [-0.39,-0.34,-0.29,-0.24,-0.19,0.21,0.26,0.31,0.37]),
(0.880, [-0.39,-0.35,-0.30,-0.25,-0.20,0.19,0.24,0.30,0.35]), (0.895, [-0.40,-0.35,-0.30,-0.24,-0.19,0.21,0.27,0.32,0.38]),
(0.910, [-0.40,-0.36,-0.31,-0.26,-0.21,0.20,0.25,0.31,0.36]), (0.925, [-0.41,-0.36,-0.31,-0.25,-0.20,0.22,0.28,0.33,0.39]),
(0.940, [-0.41,-0.37,-0.32,-0.27,-0.21,0.20,0.26,0.32,0.37]), (0.955, [-0.42,-0.37,-0.32,-0.26,-0.21,0.23,0.28,0.34,0.40]),
(0.970, [-0.42,-0.38,-0.33,-0.28,-0.22,0.21,0.27,0.33,0.38]), (0.985, [-0.43,-0.38,-0.33,-0.27,-0.22,0.23,0.29,0.35,0.41]),
(1.000, [-0.43,-0.39,-0.34,-0.28,-0.23,0.21,0.27,0.33,0.39]), (1.015, [-0.44,-0.38,-0.33,-0.27,0.24,0.30,0.36,0.42]),
(1.030, [-0.44,-0.40,-0.35,-0.29,-0.24,0.22,0.28,0.34,0.40]), (1.045, [-0.45,-0.39,-0.34,-0.28,0.24,0.31,0.37,0.43]),
(1.060, [-0.45,-0.41,-0.36,-0.30,-0.25,0.22,0.28,0.35,0.41]), (1.075, [-0.46,-0.40,-0.34,-0.28,0.25,0.31,0.38,0.44]),
(1.090, [-0.46,-0.41,-0.36,-0.31,-0.25,0.23,0.29,0.36,0.42]), (1.105, [-0.47,-0.41,-0.35,-0.29,0.26,0.32,0.39,0.45]),
(1.120, [-0.47,-0.42,-0.37,-0.31,-0.26,0.23,0.30,0.36,0.43]), (1.135, [-0.47,-0.42,-0.36,-0.30,0.26,0.33,0.39,0.45]),
(1.150, [-0.48,-0.43,-0.37,-0.32,-0.26,0.24,0.30,0.37,0.44]), (1.165, [-0.48,-0.42,-0.36,-0.30,0.27,0.34,0.40,0.46]),
(1.180, [-0.49,-0.44,-0.38,-0.33,-0.27,0.24,0.31,0.38,0.44]), (1.195, [-0.49,-0.43,-0.37,-0.31,0.27,0.34,0.41,0.47]),
(1.210, [-0.49,-0.44,-0.39,-0.33,-0.28,0.25,0.31,0.38,0.45]), (1.225, [-0.50,-0.44,-0.38,-0.32,0.28,0.35,0.42,0.47]),
(1.240, [-0.50,-0.45,-0.39,-0.34,-0.28,0.25,0.32,0.39,0.46]), (1.255, [-0.50,-0.44,-0.38,-0.32,0.28,0.35,0.42,0.48]),
(1.270, [-0.51,-0.45,-0.40,-0.34,-0.29,0.26,0.33,0.40,0.47]), (1.285, [-0.51,-0.45,-0.39,-0.33,0.29,0.36,0.43,0.48]),
(1.298, [-0.51,-0.46,-0.40,-0.35,-0.29,0.26,0.33,0.41,0.49]),
]

HC_UP = [
(3.18, [0.66,0.69,0.71,0.73,0.75,0.77,0.79,0.81,0.83,0.85,0.87,0.89,0.91,0.93,0.96,0.99,1.02,1.06,1.27]),
(3.16, [0.63]), (3.14, [0.82]), (3.11, [0.78]), (3.09, [0.65]), (3.07, [0.80]), (3.05, [0.82]),
(3.02, [0.76]), (2.99, [0.76,0.80]), (2.97, [0.59]), (2.95, [0.69]), (2.93, [0.63,0.79]),
(2.92, [0.54,0.61]), (2.91, [0.80]), (2.90, [0.62,0.68]), (2.89, [0.78]), (2.88, [0.57]),
(2.87, [0.77]), (2.84, [0.75]), (2.82, [0.78]), (2.81, [0.61,0.72]), (2.77, [0.72,0.76]),
(2.76, [0.74]), (2.74, [0.75]), (2.73, [0.68]), (2.71, [0.72]), (2.68, [0.61]), (2.67, [0.69]),
(2.66, [0.56]), (2.63, [0.74]), (2.61, [0.75]), (2.60, [0.74]), (2.58, [0.59]), (2.57, [0.72]),
(2.56, [0.58]), (2.55, [0.65]), (2.53, [0.48]), (2.50, [0.67]), (2.49, [0.69]), (2.48, [0.53]),
(2.46, [0.74]), (2.43, [0.44,0.72]), (2.42, [0.62]), (2.41, [0.67,0.71]), (2.39, [0.54,0.65]),
(2.37, [0.71]), (2.35, [0.69]), (2.34, [0.68]), (2.32, [0.63,0.71]), (2.30, [0.65]),
(2.29, [0.46,0.62,0.67]), (2.27, [0.69]), (2.25, [0.53]), (2.23, [0.44,0.54]), (2.21, [0.58,0.63]),
(2.20, [0.54,0.61]), (2.19, [0.67]), (2.18, [0.57]), (2.17, [0.53]), (2.16, [0.61,0.65]), (2.15, [0.54]),
(2.14, [0.52]), (2.13, [0.63]), (2.12, [0.53,0.62]), (2.11, [0.45,0.60]), (2.10, [0.48,0.58]),
(2.09, [0.63]), (2.08, [0.61]), (2.07, [0.49,0.57]), (2.06, [0.53]), (2.05, [0.36]),
(2.04, [0.44,0.54,0.61]), (2.03, [0.42,0.63]), (2.02, [0.47,0.55,0.60]), (2.01, [0.50]),
(2.00, [0.40,0.52,0.63]), (1.99, [0.57]), (1.98, [0.41,0.61]), (1.97, [0.46,0.54,0.62]),
(1.96, [0.42]), (1.95, [0.50,0.58]), (1.94, [0.39,0.47,0.60]), (1.93, [0.53]), (1.92, [0.43,0.62]),
(1.91, [0.51,0.57]), (1.90, [0.46,0.54]), (1.89, [0.61]), (1.88, [0.41,0.47,0.52,0.60]),
(1.87, [0.38]), (1.86, [0.58]), (1.85, [0.44,0.52,0.56]), (1.84, [0.61]), (1.83, [0.40,0.48,0.59]),
(1.82, [0.36,0.50]), (1.81, [0.45,0.53,0.62]), (1.80, [0.54]), (1.79, [0.37,0.49,0.58]),
(1.78, [0.42]), (1.77, [0.45,0.52]), (1.76, [0.40,0.48,0.56,0.60]), (1.75, [0.54,0.58]),
(1.74, [0.34,0.46,0.51]), (1.73, [0.38,0.55,0.59]), (1.72, [0.44]),
(1.71, [0.36,0.44,0.52,0.57]), (1.70, [0.33,0.40,0.48,0.55]), (1.69, [0.38,0.46,0.53]),
(1.68, [0.34,0.42,0.50,0.56]), (1.67, [0.37,0.45,0.52]), (1.66, [0.32,0.40,0.48,0.55]),
(1.65, [0.36,0.43,0.51]), (1.64, [0.33,0.39,0.46,0.54]), (1.63, [0.35,0.42,0.49,0.53]),
(1.62, [0.31,0.38,0.45,0.51]), (1.61, [0.34,0.41,0.48,0.54]), (1.60, [0.30,0.37,0.44,0.50]),
(1.59, [0.33,0.40,0.47,0.52]), (1.58, [0.29,0.36,0.43,0.49]), (1.57, [0.32,0.39,0.46,0.53]),
(1.56, [0.30,0.35,0.42,0.48]), (1.55, [0.33,0.38,0.45,0.51]), (1.54, [0.28,0.36,0.41,0.47]),
(1.53, [0.31,0.39,0.44,0.50]), (1.52, [0.29,0.34,0.42,0.48]), (1.51, [0.32,0.37,0.45,0.52]),
(1.50, [0.27,0.35,0.40,0.47]), (1.49, [0.30,0.38,0.43,0.50]), (1.48, [0.28,0.33,0.41,0.46]),
(1.47, [0.31,0.36,0.44,0.49]), (1.46, [0.27,0.34,0.39,0.47]), (1.45, [0.29,0.37,0.42,0.48]),
(1.44, [0.32,0.35,0.40,0.45]), (1.43, [0.28,0.33,0.38,0.46]), (1.42, [0.30,0.36,0.43,0.49]),
(1.41, [0.27,0.34,0.39,0.44]), (1.40, [0.31,0.37,0.42,0.47]), (1.39, [0.29,0.33,0.40,0.45]),
(1.38, [0.32,0.36,0.43,0.48]), (1.37, [0.28,0.34,0.38,0.46]), (1.36, [0.30,0.35,0.41,0.47]),
(1.35, [0.29,0.33,0.39,0.44]), (1.34, [0.31,0.37,0.42,0.48]), (1.33, [0.30,0.35,0.40,0.46]),
(1.32, [0.29,0.34,0.38,0.44,0.49]), (1.31, [0.31,0.36,0.42,0.47]),
]

HC_DOWN = [
(3.18, [-2.31,-1.73,-1.09,-0.98,-0.96,-0.86,-0.80,-0.78,-0.76,-0.74,-0.72,-0.70]),
(3.14, [-0.79]), (3.11, [-0.79]),
(2.83, [-0.63]), (2.78, [-0.78]), (2.74, [-0.74]), (2.73, [-0.70,-0.53]), (2.69, [-0.67]),
(2.68, [-0.46]), (2.64, [-0.64]), (2.63, [-0.65]), (2.62, [-0.67]), (2.60, [-0.69]),
(2.51, [-0.54]), (2.45, [-0.72,-0.57]), (2.42, [-0.71,-0.65]), (2.35, [-0.62]),
(2.31, [-0.71]), (2.30, [-0.64,-0.53,-0.43]), (2.28, [-0.56]), (2.27, [-0.49]), (2.26, [-0.60]),
(2.20, [-0.48]), (2.17, [-0.60]), (2.14, [-0.59,-0.46]), (2.12, [-0.65]), (2.09, [-0.49,-0.60]),
(2.06, [-0.50]), (2.05, [-0.65]), (2.03, [-0.63,-0.60]), (2.01, [-0.62]), (1.97, [-0.48]),
(1.94, [-0.40,-0.63,-0.62,-0.55,-0.52]), (1.91, [-0.37]),
(1.90, [-0.60,-0.44]), (1.89, [-0.55,-0.40]), (1.88, [-0.63,-0.49]), (1.87, [-0.58,-0.36]),
(1.86, [-0.52,-0.45]), (1.85, [-0.61,-0.41]), (1.84, [-0.56,-0.47]), (1.83, [-0.62,-0.38]),
(1.82, [-0.50]), (1.81, [-0.59,-0.43]), (1.80, [-0.54,-0.37]), (1.79, [-0.60,-0.47]),
(1.78, [-0.52,-0.40]), (1.77, [-0.57,-0.35]), (1.76, [-0.49,-0.44]), (1.75, [-0.58,-0.38]),
(1.74, [-0.53,-0.46]), (1.73, [-0.56,-0.36]), (1.72, [-0.51,-0.41]), (1.71, [-0.57,-0.47,-0.34]),
(1.70, [-0.53,-0.39]), (1.69, [-0.58,-0.45]), (1.68, [-0.50,-0.33]), (1.67, [-0.55,-0.42]),
(1.66, [-0.52,-0.37]), (1.65, [-0.57,-0.46,-0.31]), (1.64, [-0.53,-0.40]), (1.63, [-0.49,-0.35]),
(1.62, [-0.56,-0.44]), (1.61, [-0.51,-0.32]), (1.60, [-0.55,-0.47,-0.38]), (1.59, [-0.52,-0.41]),
(1.58, [-0.57,-0.34]), (1.57, [-0.50,-0.44]), (1.56, [-0.54,-0.37]), (1.55, [-0.48,-0.31]),
(1.54, [-0.56,-0.42]), (1.53, [-0.51,-0.36]), (1.52, [-0.54,-0.46,-0.33]), (1.51, [-0.49,-0.40]),
(1.50, [-0.55,-0.35]), (1.49, [-0.52,-0.44,-0.30]), (1.48, [-0.47,-0.38]), (1.47, [-0.54,-0.33]),
(1.46, [-0.50,-0.42]), (1.45, [-0.55,-0.36,-0.29]), (1.44, [-0.48,-0.40]), (1.43, [-0.52,-0.32]),
(1.42, [-0.46,-0.37]), (1.41, [-0.54,-0.43,-0.30]), (1.40, [-0.49,-0.35]), (1.39, [-0.52,-0.40,-0.28]),
(1.38, [-0.46,-0.33]), (1.37, [-0.55,-0.38]), (1.36, [-0.49,-0.43,-0.29]), (1.35, [-0.52,-0.34]),
(1.34, [-0.47,-0.39,-0.28]), (1.33, [-0.50,-0.32]), (1.32, [-0.45,-0.36]),
]

FONT = "Liberation Sans, Arial, sans-serif"
AX_COLOR = "#333333"


def flatten(rows):
    xs, ys = [], []
    for yv, row in rows:
        for xv in row:
            xs.append(xv)
            ys.append(yv)
    return xs, ys


fig = go.Figure()
panels = [
    ({"nosig": LH_NOSIG, "up": LH_UP, "down": LH_DOWN}, "x", "y"),
    ({"nosig": HC_NOSIG, "up": HC_UP, "down": HC_DOWN}, "x2", "y2"),
]
for data, xa, ya in panels:
    for g in GROUPS:
        xs, ys = flatten(data[g])
        fig.add_trace(go.Scatter(
            x=xs, y=ys, mode="markers", xaxis=xa, yaxis=ya, name=g,
            showlegend=False, cliponaxis=False, hoverinfo="skip",
            marker=dict(size=GROUP_SIZES[g], color=GROUP_COLORS[g], line=dict(width=0)),
        ))


def px_x(p):
    return p / W


def px_y(p):
    return 1 - p / H


axis_common = dict(
    showline=True, linecolor=AX_COLOR, linewidth=1.4, mirror=False,
    ticks="outside", ticklen=9, tickwidth=1.4, tickcolor=AX_COLOR,
    showgrid=False, zeroline=False, fixedrange=True,
    tickfont=dict(family=FONT, size=18, color="#111111"),
)

fig.update_layout(
    width=W, height=H, autosize=False,
    margin=dict(l=0, r=0, t=0, b=0, pad=0),
    paper_bgcolor="white", plot_bgcolor="white",
    xaxis=dict(domain=[px_x(85), px_x(812)], range=[-2.83, 3.0], anchor="y",
               tickmode="array", tickvals=LH_XTICKS, ticktext=LH_XTICKTEXT, **axis_common),
    yaxis=dict(domain=[px_y(878.7), px_y(60)], range=[0, 3], anchor="x",
               tickmode="array", tickvals=LH_YTICKS, ticktext=LH_YTICKTEXT,
               ticklabelstandoff=10, **axis_common),
    xaxis2=dict(domain=[px_x(1095), px_x(1824.6)], range=[-2.32, 2.0], anchor="y2",
                tickmode="array", tickvals=HC_XTICKS, ticktext=HC_XTICKTEXT, **axis_common),
    yaxis2=dict(domain=[px_y(878.7), px_y(59.7)], range=[0, 3.5], anchor="x2",
                tickmode="array", tickvals=HC_YTICKS, ticktext=HC_YTICKTEXT,
                ticklabelstandoff=10, **axis_common),
)

ann = []


def add_text(text, x, y, size, color="#111111", angle=0, anchor="center", bold=False):
    ann.append(dict(
        text=("<b>%s</b>" % text) if bold else text,
        x=px_x(x), y=px_y(y), xref="paper", yref="paper",
        xanchor=anchor, yanchor="middle", showarrow=False, textangle=angle,
        font=dict(family=FONT, size=size, color=color),
    ))


add_text(PANEL_TITLES[0], 467, 15, 29)
add_text(PANEL_TITLES[1], 1481, 15, 29)
add_text(X_TITLE, 448, 934, 23)
add_text(X_TITLE, 1460, 934, 23)
add_text(Y_TITLES[0], 15, 470, 22, angle=-90)
add_text(Y_TITLES[1], 1026, 469, 22, angle=-90)

shapes = []
LEGEND_Y = [25, 46, 67]
for dot_x, text_x in [(859, 880), (1870, 1892)]:
    for g, ly in zip(GROUPS, LEGEND_Y):
        add_text(g, text_x, ly, 19, color=GROUP_COLORS[g], anchor="left", bold=True)
        r = 1.7
        shapes.append(dict(type="circle", xref="paper", yref="paper",
                           x0=px_x(dot_x - r), x1=px_x(dot_x + r),
                           y0=px_y(ly + 1 + r), y1=px_y(ly + 1 - r),
                           fillcolor=GROUP_COLORS[g], line=dict(width=0)))

fig.update_layout(annotations=ann, shapes=shapes)

fig.write_html("out.html", include_plotlyjs=True, config={"displayModeBar": False},
               post_script="document.body.style.margin='0';document.body.style.overflow='hidden';")
